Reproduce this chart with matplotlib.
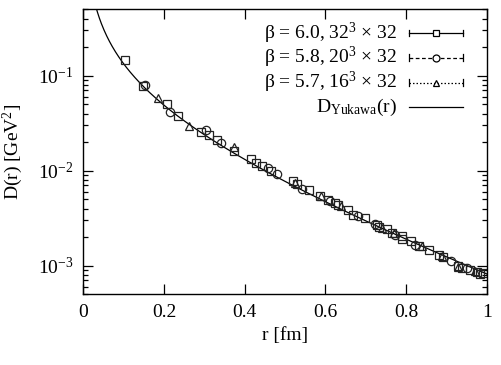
import numpy as np
import matplotlib
matplotlib.use("Agg")
import matplotlib.pyplot as plt
from matplotlib.ticker import LogLocator, NullLocator, FixedLocator

plt.rcParams['font.family'] = ['Liberation Serif', 'DejaVu Serif']
plt.rcParams['mathtext.fontset'] = 'custom'
plt.rcParams['mathtext.rm'] = 'Liberation Serif'
plt.rcParams['mathtext.it'] = 'Liberation Serif:italic'
plt.rcParams['font.size'] = 14

# beta = 6.0, 32^3 x 32  (squares)
r_60 = [0.103, 0.147, 0.208, 0.234, 0.293, 0.312, 0.331, 0.374, 0.415, 0.427,
        0.442, 0.465, 0.521, 0.530, 0.560, 0.587, 0.607, 0.624, 0.632, 0.657,
        0.669, 0.698, 0.727, 0.734, 0.752, 0.765, 0.789, 0.791, 0.812, 0.833,
        0.857, 0.883, 0.892, 0.930, 0.938, 0.959, 0.975, 0.983, 0.992]
d_60 = [0.145, 0.0772, 0.0507, 0.0379, 0.0253, 0.0235, 0.0208, 0.0160, 0.0133, 0.0122,
        0.0113, 0.0100, 0.00771, 0.00730, 0.00631, 0.00546, 0.00495, 0.00457, 0.00432, 0.00388,
        0.00344, 0.00318, 0.00270, 0.00255, 0.00243, 0.00221, 0.00203, 0.00191, 0.00180, 0.00163,
        0.00147, 0.00131, 0.00124, 0.00100, 0.000946, 0.000908, 0.000850, 0.000818, 0.000837]

# beta = 5.8, 20^3 x 32  (circles)
r_58 = [0.152, 0.215, 0.304, 0.341, 0.457, 0.481, 0.542, 0.612, 0.682, 0.722,
        0.773, 0.822, 0.911, 0.950]
d_58 = [0.0804, 0.0418, 0.0266, 0.0194, 0.0107, 0.00929, 0.00647, 0.00480, 0.00336, 0.00275,
        0.00212, 0.00166, 0.00111, 0.00095]

# beta = 5.7, 16^3 x 32  (triangles)
r_57 = [0.186, 0.262, 0.374, 0.525, 0.590, 0.640, 0.740, 0.770, 0.840, 0.890,
        0.930, 0.970]
d_57 = [0.0583, 0.0298, 0.0178, 0.0075, 0.0054, 0.0043, 0.0025, 0.0022, 0.0016, 0.00125,
        0.00098, 0.00088]

# Yukawa fit parameters: D(r) = A exp(-m r) / r
yuk_A = 0.0182
yuk_m = 3.1

fig = plt.figure(figsize=(5.01, 3.65), dpi=100)
ax = fig.add_axes([0.1663, 0.1937, 0.8051, 0.7808])

rr = np.linspace(0.005, 1.0, 600)
ax.plot(rr, yuk_A * np.exp(-yuk_m * rr) / rr, color='black', lw=0.9)

mk = dict(linestyle='none', mfc='none', mec='#222222', mew=0.9, ms=6)
ax.plot(r_60, d_60, marker='s', **mk)
ax.plot(r_58, d_58, marker='o', **mk)
ax.plot(r_57, d_57, marker='^', **mk)

ax.set_yscale('log')
ax.set_xlim(0, 1)
ax.set_ylim(5e-4, 0.5)
ax.xaxis.set_major_locator(FixedLocator([0, 0.2, 0.4, 0.6, 0.8, 1.0]))
ax.set_xticklabels(['0', '0.2', '0.4', '0.6', '0.8', '1'])
ax.xaxis.set_minor_locator(NullLocator())
ax.yaxis.set_major_locator(LogLocator(base=10, numticks=10))
ax.yaxis.set_minor_locator(LogLocator(base=10, subs=np.arange(2, 10), numticks=20))
ax.tick_params(which='both', direction='in', top=True, right=True, width=0.9)
ax.tick_params(which='major', length=7, pad=7)
ax.tick_params(which='minor', length=3.5)
for s in ax.spines.values():
    s.set_linewidth(1.0)

ax.set_xlabel('r [fm]', labelpad=4)
ax.set_ylabel(r'D(r) [GeV$^2$]')
ax.yaxis.set_label_coords(-0.145, 0.5)

# gnuplot-style key
labels = ['β = 6.0, 32$^3$ × 32',
          'β = 5.8, 20$^3$ × 32',
          'β = 5.7, 16$^3$ × 32',
          r'D$_{\mathrm{Yukawa}}$(r)']
styles = [('s', '-'), ('o', (0, (3, 2))), ('^', (0, (1.2, 1.6))), (None, '-')]
ys = [0.917, 0.830, 0.743, 0.656]
x0, x1 = 0.807, 0.941
for lab, (m, ls), y in zip(labels, styles, ys):
    ax.text(0.778, y, lab, transform=ax.transAxes, ha='right', va='center')
    ax.plot([x0, x1], [y, y], transform=ax.transAxes, color='black', lw=0.9, ls=ls)
    if m is not None:
        for xe in (x0, x1):
            ax.plot([xe, xe], [y - 0.012, y + 0.012], transform=ax.transAxes,
                    color='black', lw=0.9)
        ax.plot([0.5 * (x0 + x1)], [y], transform=ax.transAxes, marker=m,
                mfc='white', mec='black', mew=0.9, ms=5)

fig.savefig('out.png', dpi=100)
